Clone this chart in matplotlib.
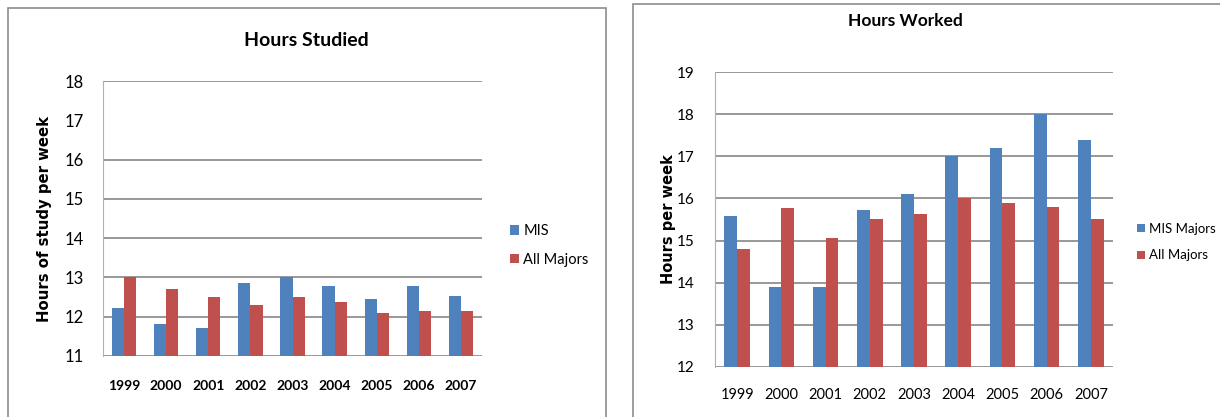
import numpy as np
import matplotlib.pyplot as plt
from matplotlib.patches import Rectangle

years = ['1999', '2000', '2001', '2002', '2003', '2004', '2005', '2006', '2007']
# Hours studied per week
studied_mis = [12.22, 11.82, 11.72, 12.86, 13.01, 12.78, 12.45, 12.78, 12.53]
studied_all = [13.0, 12.71, 12.5, 12.3, 12.5, 12.38, 12.1, 12.15, 12.15]
# Hours worked per week
worked_mis = [15.59, 13.89, 13.91, 15.73, 16.11, 17.0, 17.2, 18.0, 17.38]
worked_all = [14.8, 15.78, 15.06, 15.52, 15.64, 16.0, 15.9, 15.8, 15.52]

blue = '#4F81BD'
red = '#C0504D'
grid_col = '#868686'
narrow = ['Lato', 'DejaVu Sans']

W, H = 1220, 417
fig = plt.figure(figsize=(W / 100, H / 100), dpi=100)


def box(x0, x1, y0, y1):
    # pixel box -> figure fraction
    return [x0 / W, 1 - y1 / H, (x1 - x0) / W, (y1 - y0) / H]


# chart borders
fig.patches.append(Rectangle((8 / W, -0.05), (606 - 8) / W, 1.05 - 8 / H,
                             transform=fig.transFigure, fill=False,
                             edgecolor='#8c8c8c', lw=1.2))
fig.patches.append(Rectangle((633 / W, -0.05), 0.5, 1.05 - 4 / H,
                             transform=fig.transFigure, fill=False,
                             edgecolor='#8c8c8c', lw=1.2))


def bar_chart(ax, mis, allm, ylo, yhi, labels, ylabel):
    x = np.arange(len(years))
    bw = 0.29
    ax.bar(x - bw / 2, mis, bw, color=blue, label=labels[0], zorder=3)
    ax.bar(x + bw / 2, allm, bw, color=red, label=labels[1], zorder=3)
    ax.set_xlim(-0.5, len(years) - 0.5)
    ax.set_ylim(ylo, yhi)
    ax.set_yticks(range(ylo, yhi + 1))
    ax.set_xticks(x)
    ax.set_xticklabels(years, family=narrow, fontsize=10.5)
    ax.tick_params(axis='both', length=0)
    ax.tick_params(axis='x', pad=15)
    ax.tick_params(axis='y', pad=15)
    ax.yaxis.grid(True, color=grid_col, lw=1.2, zorder=0)
    for s in ['top', 'right', 'bottom']:
        ax.spines[s].set_visible(False)
    ax.spines['left'].set_color('#b0b0b0')
    ax.set_ylabel(ylabel, fontsize=10.7, fontweight='bold', family='DejaVu Sans')


ax1 = fig.add_axes(box(103, 482, 81, 356))
bar_chart(ax1, studied_mis, studied_all, 11, 18, ['MIS', 'All Majors'],
          'Hours of study per week')
ax1.get_ygridlines()[6].set_visible(False)
ax1.yaxis.set_label_coords(-0.135, 0.5)
for t in ax1.get_yticklabels():
    t.set_family(narrow)
    t.set_fontsize(12)
ax1.tick_params(axis='x', pad=17)
ax1.tick_params(axis='y', pad=14)
for t in ax1.get_xticklabels():
    t.set_fontweight('bold')
    t.set_fontsize(10)
fig.text(306 / W, 1 - 41 / H, 'Hours Studied', ha='center', va='center',
         fontsize=14, fontweight='bold', family=narrow)
ax1.legend(loc='upper left', bbox_to_anchor=(497 / W, 1 - 211 / H),
           bbox_transform=fig.transFigure, frameon=False, prop={'family': narrow, 'size': 10.5},
           handlelength=0.6, handleheight=0.6, handletextpad=0.3, labelspacing=1.0)

ax2 = fig.add_axes(box(715, 1113, 72, 367))
bar_chart(ax2, worked_mis, worked_all, 12, 19, ['MIS Majors', 'All Majors'],
          'Hours per week')
for t in ax2.get_yticklabels():
    t.set_family(narrow)
    t.set_fontsize(11)
ax2.yaxis.set_label_coords(-0.098, 0.5)
ax2.yaxis.label.set_fontsize(10.5)
fig.text(905 / W, 1 - 21 / H, 'Hours Worked', ha='center', va='center',
         fontsize=12.5, fontweight='bold', family=narrow)
ax2.legend(loc='upper left', bbox_to_anchor=(1125 / W, 1 - 211 / H),
           bbox_transform=fig.transFigure, frameon=False, prop={'family': narrow, 'size': 9.5},
           handlelength=0.6, handleheight=0.6, handletextpad=0.3, labelspacing=1.1)

fig.savefig('out.png', dpi=100)
